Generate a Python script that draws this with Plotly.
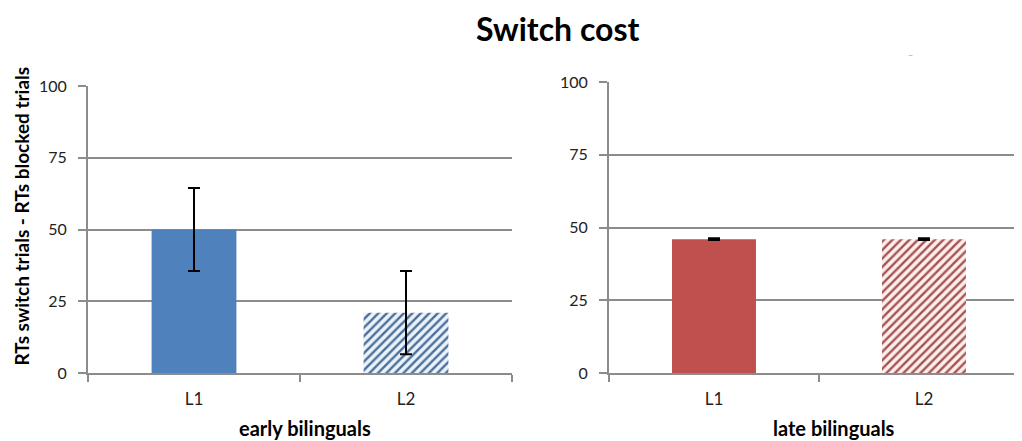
import plotly.graph_objects as go

categories = ["L1", "L2"]
early_values = [50, 21]
early_errors = [14.5, 14.5]
late_values = [46, 46]
late_errors = [0.3, 0.3]
y_ticks = [0, 25, 50, 75, 100]

title_text = "Switch cost"
y_title = "RTs switch trials - RTs blocked trials"
early_label = "early bilinguals"
late_label = "late bilinguals"

W, H = 1022, 441
OFF = 8  # page body margin shift
FONT = "Lato"

def px_x(p):
    return (p - OFF) / W

def px_y(p):
    return 1 - (p - OFF) / H

blue = "#4f81bd"
blue_bg = "#eaf3fb"
blue_hatch = "#4d6f99"
red = "#c0504d"
red_bg = "#fcefee"
red_hatch = "#a65350"

fig = go.Figure()

def solid_bar(x, y, err, color, xa, ya):
    return go.Bar(x=[x], y=[y], marker=dict(color=color, line=dict(width=0)),
                  error_y=dict(type="data", array=[err], color="black", thickness=2, width=6),
                  xaxis=xa, yaxis=ya, width=0.4, showlegend=False)

def hatch_bar(x, y, err, bg, fg, xa, ya):
    return go.Bar(x=[x], y=[y],
                  marker=dict(color=bg, line=dict(width=0),
                              pattern=dict(shape="/", fgcolor=fg, bgcolor=bg, size=6,
                                           solidity=0.4, fillmode="replace", fgopacity=1)),
                  error_y=dict(type="data", array=[err], color="black", thickness=2, width=6),
                  xaxis=xa, yaxis=ya, width=0.4, showlegend=False)

fig.add_trace(solid_bar(categories[0], early_values[0], early_errors[0], blue, "x", "y"))
fig.add_trace(hatch_bar(categories[1], early_values[1], early_errors[1], blue_bg, blue_hatch, "x", "y"))
fig.add_trace(solid_bar(categories[0], late_values[0], late_errors[0], red, "x2", "y2"))
fig.add_trace(hatch_bar(categories[1], late_values[1], late_errors[1], red_bg, red_hatch, "x2", "y2"))

axis_color = "#8c8c8c"
common_x = dict(type="category", categoryorder="array", categoryarray=categories,
                showline=True, linecolor=axis_color, linewidth=2,
                ticks="outside", tickson="boundaries", ticklen=7, tickcolor=axis_color,
                tickwidth=1.5, showgrid=False, zeroline=False, automargin=False,
                tickfont=dict(family=FONT, size=17, color="#222"), ticklabelstandoff=10)
common_y = dict(range=[0, 100], tickvals=y_ticks, showline=True, linecolor=axis_color,
                linewidth=2, ticks="outside", ticklen=8, tickcolor=axis_color, tickwidth=1.5,
                showgrid=True, gridcolor=axis_color, gridwidth=2, zeroline=False, automargin=False,
                tickfont=dict(family=FONT, size=16, color="#222"), ticklabelstandoff=8)

fig.update_layout(
    width=W, height=H, autosize=False,
    margin=dict(l=0, r=0, t=0, b=0, pad=0),
    plot_bgcolor="white", paper_bgcolor="white",
    barmode="overlay",
    xaxis=dict(domain=[px_x(88), px_x(512)], range=[-0.5, 1.5], anchor="y", **common_x),
    yaxis=dict(domain=[px_y(373), px_y(86)], anchor="x", **common_y),
    xaxis2=dict(domain=[px_x(609), 1.0], range=[-0.5, 1.505], anchor="y2", **common_x),
    yaxis2=dict(domain=[px_y(373), px_y(82)], anchor="x2", **common_y),
    annotations=[
        dict(text="<b>" + title_text + "</b>", x=px_x(557), y=1.0, xref="paper", yref="paper",
             showarrow=False, font=dict(family=FONT, size=32, color="black"),
             xanchor="center", yanchor="top", borderpad=0),
        dict(text="<b>" + y_title + "</b>", x=0.0, y=px_y(216), xref="paper", yref="paper",
             showarrow=False, textangle=-90, font=dict(family=FONT, size=19, color="black"),
             xanchor="left", yanchor="middle", borderpad=0),
        dict(text="<b>" + early_label + "</b>", x=px_x(305), y=px_y(428), xref="paper", yref="paper",
             showarrow=False, font=dict(family=FONT, size=20, color="black"),
             xanchor="center", yanchor="middle"),
        dict(text="<b>" + late_label + "</b>", x=px_x(834), y=px_y(428), xref="paper", yref="paper",
             showarrow=False, font=dict(family=FONT, size=20, color="black"),
             xanchor="center", yanchor="middle"),
        dict(text="–", x=px_x(910), y=px_y(55), xref="paper", yref="paper",
             showarrow=False, font=dict(family=FONT, size=9, color="#aaaaaa"),
             xanchor="center", yanchor="middle"),
    ],
)

fig.write_html("out.html")
